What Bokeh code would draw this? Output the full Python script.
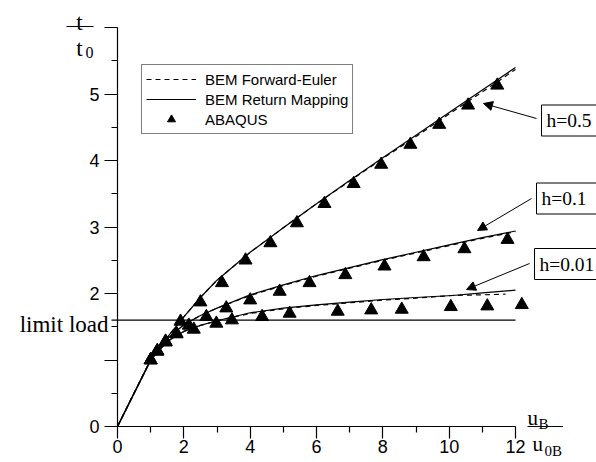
from bokeh.plotting import figure
from bokeh.models import (Range1d, FixedTicker, Legend, LegendItem, Label, Arrow,
                          NormalHead)
from bokeh.embed import file_html
from bokeh.resources import INLINE

# ---------------- data ----------------
# BEM Return Mapping (solid) and BEM Forward-Euler (dashed)
x_rm_05 = [0, 1, 1.5, 2, 2.5, 3, 4, 5, 6, 7, 8, 9, 10, 11, 12]
y_rm_05 = [0, 1.0, 1.34, 1.65, 1.94, 2.2, 2.62, 2.99, 3.35, 3.7, 4.04, 4.38, 4.72, 5.06, 5.40]
x_fe_05 = [0, 1, 1.5, 2, 2.5, 3, 4, 5, 6, 7, 8, 9, 10, 11, 12]
y_fe_05 = [0, 1.0, 1.34, 1.65, 1.94, 2.2, 2.62, 2.99, 3.35, 3.69, 4.03, 4.36, 4.70, 5.03, 5.37]

x_rm_01 = [0, 1, 1.5, 2, 2.5, 3, 4, 5, 6, 7, 8, 9, 10, 11, 12]
y_rm_01 = [0, 1.0, 1.32, 1.53, 1.67, 1.78, 1.98, 2.13, 2.27, 2.39, 2.51, 2.62, 2.73, 2.84, 2.94]
x_fe_01 = [0, 1, 1.5, 2, 2.5, 3, 4, 5, 6, 7, 8, 9, 10, 11, 12]
y_fe_01 = [0, 1.0, 1.32, 1.53, 1.67, 1.78, 1.97, 2.12, 2.26, 2.38, 2.50, 2.61, 2.72, 2.83, 2.93]

x_rm_001 = [0, 1, 1.5, 2, 2.5, 3, 4, 5, 6, 7, 8, 9, 10.1, 11, 12]
y_rm_001 = [0, 1.0, 1.28, 1.43, 1.52, 1.59, 1.71, 1.78, 1.83, 1.87, 1.91, 1.94, 1.97, 2.01, 2.05]
x_fe_001 = [0, 1, 1.5, 2, 2.5, 3, 4, 5, 6, 7, 8, 9, 10.1, 11, 11.7]
y_fe_001 = [0, 1.0, 1.28, 1.43, 1.52, 1.59, 1.70, 1.77, 1.82, 1.86, 1.90, 1.93, 1.97, 1.98, 1.99]

# ABAQUS (triangles)
x_ab_05 = [1.0, 1.2, 1.45, 1.9, 2.5, 3.15, 3.86, 4.61, 5.41, 6.24, 7.12, 7.95, 8.83, 9.7, 10.57, 11.45]
y_ab_05 = [1.0, 1.14, 1.28, 1.58, 1.87, 2.16, 2.5, 2.76, 3.06, 3.35, 3.65, 3.94, 4.24, 4.54, 4.83, 5.13]
x_ab_01 = [1.0, 1.2, 1.45, 1.78, 2.15, 2.68, 3.28, 4.0, 4.89, 5.79, 6.87, 8.05, 9.23, 10.46, 11.76]
y_ab_01 = [1.0, 1.13, 1.27, 1.40, 1.52, 1.65, 1.78, 1.90, 2.03, 2.16, 2.28, 2.41, 2.55, 2.67, 2.81]
x_ab_001 = [1.0, 1.2, 1.45, 1.78, 2.3, 2.98, 3.45, 4.36, 5.19, 6.64, 7.65, 8.57, 10.05, 11.15, 12.19]
y_ab_001 = [1.0, 1.13, 1.27, 1.39, 1.46, 1.55, 1.60, 1.65, 1.70, 1.73, 1.75, 1.76, 1.80, 1.81, 1.83]

limit_load = 1.6

x_ticks = [0, 2, 4, 6, 8, 10, 12]
x_minor = [1, 3, 5, 7, 9, 11]
y_ticks = [0, 1, 2, 3, 4, 5, 6]
y_minor = [0.5, 1.5, 2.5, 3.5, 4.5, 5.5]
y_tick_labels = {0: "0", 1: "", 2: "2", 3: "3", 4: "4", 5: "5", 6: ""}

legend_labels = ["BEM Forward-Euler", "BEM Return Mapping", "ABAQUS"]
curve_labels = [" h=0.5 ", " h=0.1 ", "h=0.01"]

# ---------------- layout ----------------
W, H = 596, 462
X0, Y0 = 117, 426          # pixel of data origin
XS = 398 / 12.0            # px per x unit
YS = 399 / 6.0             # px per y unit


def dx(px):
    return (px - X0) / XS


def dy(py):
    return (Y0 - py) / YS


p = figure(width=W, height=H, output_backend="svg", toolbar_location=None,
           x_range=Range1d(dx(0), dx(W)), y_range=Range1d(dy(H), dy(0)),
           min_border=0, min_border_left=0, min_border_right=0,
           min_border_top=0, min_border_bottom=0)
p.title.visible = False
p.outline_line_color = None
p.xgrid.visible = False
p.ygrid.visible = False
p.background_fill_color = "white"
p.border_fill_color = "white"

SANS = "Liberation Sans"
SERIF = "Liberation Serif"

xa = p.xaxis[0]
xa.fixed_location = 0
xa.bounds = (0, 12)
xa.ticker = FixedTicker(ticks=x_ticks, minor_ticks=x_minor)
xa.major_tick_out = 12
xa.major_tick_in = 0
xa.minor_tick_out = 6
xa.minor_tick_in = 0
xa.axis_line_color = "black"
xa.axis_line_width = 1.2
xa.major_tick_line_color = "black"
xa.minor_tick_line_color = "black"
xa.major_tick_line_width = 1.2
xa.minor_tick_line_width = 1.2
xa.major_label_text_font = SANS
xa.major_label_text_font_size = "18px"
xa.major_label_text_color = "black"
xa.major_label_standoff = 1

ya = p.yaxis[0]
ya.fixed_location = 0
ya.bounds = (0, 6)
ya.ticker = FixedTicker(ticks=y_ticks, minor_ticks=y_minor)
ya.major_label_overrides = y_tick_labels
ya.major_tick_out = 13
ya.major_tick_in = 0
ya.minor_tick_out = 6
ya.minor_tick_in = 0
ya.axis_line_color = "black"
ya.axis_line_width = 1.2
ya.major_tick_line_color = "black"
ya.minor_tick_line_color = "black"
ya.major_tick_line_width = 1.2
ya.minor_tick_line_width = 1.2
ya.major_label_text_font = SANS
ya.major_label_text_font_size = "18px"
ya.major_label_text_color = "black"
ya.major_label_standoff = 5

LW = 1.2
DASH = "5 4"

fe_r = p.line(x_fe_05, y_fe_05, line_color="black", line_width=LW, line_dash=DASH)
p.line(x_fe_01, y_fe_01, line_color="black", line_width=LW, line_dash=DASH)
p.line(x_fe_001, y_fe_001, line_color="black", line_width=LW, line_dash=DASH)
rm_r = p.line(x_rm_05, y_rm_05, line_color="black", line_width=LW)
p.line(x_rm_01, y_rm_01, line_color="black", line_width=LW)
p.line(x_rm_001, y_rm_001, line_color="black", line_width=LW)

MS = 13
ab_r = p.scatter(x_ab_05, y_ab_05, marker="triangle", size=MS, color="black")
p.scatter(x_ab_01, y_ab_01, marker="triangle", size=MS, color="black")
p.scatter(x_ab_001, y_ab_001, marker="triangle", size=MS, color="black")


def seg(px0, py0, px1, py1, width=1.0):
    p.add_layout(Arrow(start=None, end=None, x_start=dx(px0), y_start=dy(py0),
                       x_end=dx(px1), y_end=dy(py1), line_color="black",
                       line_width=width))


# limit load line (extends slightly left of the axis)
p.add_layout(Arrow(start=None, end=None, x_start=dx(111), y_start=limit_load,
                   x_end=12, y_end=limit_load, line_color="black", line_width=LW))
p.add_layout(Label(x=dx(108), y=limit_load, y_offset=-4, text="limit load",
                   text_align="right", text_baseline="alphabetic",
                   text_font=SERIF, text_font_size="23px", text_color="black"))

# legend
legend = Legend(items=[LegendItem(label=legend_labels[0], renderers=[fe_r]),
                       LegendItem(label=legend_labels[1], renderers=[rm_r]),
                       LegendItem(label=legend_labels[2], renderers=[ab_r])],
                location=(141, H - 134), border_line_color="black", border_line_width=1,
                background_fill_color="white", background_fill_alpha=1.0,
                padding=4, margin=0, spacing=0, label_height=20, glyph_height=20,
                glyph_width=50, label_standoff=9, label_text_font=SANS,
                label_text_font_size="15px", label_text_color="black")
p.add_layout(legend)

# curve annotations: boxed labels and arrows (pixel layout)
label_left = [541, 536, 534]
label_mid = [120, 198, 263.5]
arrows = [((536, 118), (483, 103)), ((531, 198), (477, 230)), ((529, 263), (466, 289))]
for lx, ly, ((sx0, sy0), (sx1, sy1)), s in zip(label_left, label_mid, arrows, curve_labels):
    p.add_layout(Label(x=dx(lx), y=dy(ly), text=s, text_align="left",
                       text_baseline="middle", text_font=SERIF,
                       text_font_size="19.5px", text_color="black",
                       border_line_color="black", border_line_width=1,
                       padding=5))
    p.add_layout(Arrow(end=NormalHead(size=9, fill_color="black", line_color="black",
                                      line_width=1),
                       x_start=dx(sx0), y_start=dy(sy0), x_end=dx(sx1), y_end=dy(sy1),
                       line_color="black", line_width=1))


# axis titles as fractions
def txt(px, py, s, size, align="left"):
    p.add_layout(Label(x=dx(px), y=dy(py), text=s, text_align=align,
                       text_baseline="alphabetic", text_font=SERIF,
                       text_font_size=size, text_color="black"))


# t / t0
txt(79, 22, "t", "23px", "center")
seg(66, 26, 93, 26)
txt(79, 48, "t", "23px", "center")
txt(85, 52, "0", "16px")

# uB / u0B  (fraction bar drawn as a bare legend line sample)
txt(527, 417, "u", "21px")
txt(538, 423, "B", "15px")
bar_legend = Legend(items=[LegendItem(label="", renderers=[rm_r])],
                    location=(527, H - 427), border_line_color=None,
                    background_fill_alpha=0, padding=0, margin=0, spacing=0,
                    label_height=2, glyph_height=2, glyph_width=36,
                    label_standoff=0, label_text_font_size="1px", label_width=0)
p.add_layout(bar_legend)
txt(532, 443, "u", "21px")
txt(544, 450, "0B", "15px")

open("out.html", "w").write(file_html(p, INLINE))
